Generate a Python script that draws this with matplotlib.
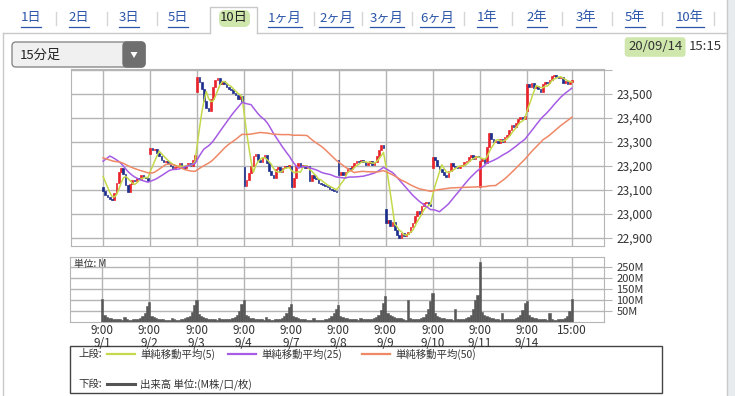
import matplotlib.pyplot as plt
import numpy as np
import pandas as pd
from matplotlib.patches import Rectangle, FancyBboxPatch, Polygon
from matplotlib.lines import Line2D

plt.rcParams['font.family'] = ['Noto Sans CJK JP', 'DejaVu Sans']

# --- data -------------------------------------------------------------
tabs = ["1日", "2日", "3日", "5日", "10日", "1ヶ月", "2ヶ月", "3ヶ月",
        "6ヶ月", "1年", "2年", "3年", "5年", "10年"]
selected_tab = "10日"

days = ["9/1", "9/2", "9/3", "9/4", "9/7", "9/8", "9/9", "9/10", "9/11", "9/14"]
# 15分足: 9:00-11:15, 12:30-15:00  (21 bars per day)
bar_times = ["9:00", "9:15", "9:30", "9:45", "10:00", "10:15", "10:30", "10:45",
             "11:00", "11:15", "12:30", "12:45", "13:00", "13:15", "13:30",
             "13:45", "14:00", "14:15", "14:30", "14:45", "15:00"]

# closes before 9/1 (8/27 pm, 8/28, 8/31) - only feed the moving averages
prev_closes = [23220, 23230, 23215, 23200, 23210, 23195, 23208,
               23320, 23340, 23360, 23350, 23340, 23330, 23320, 23310, 23300, 23310, 23290,
               23280, 23300, 23290, 23280, 23100, 22950, 22920, 22900, 22890, 22882,
               23170, 23220, 23280, 23340, 23400, 23420, 23400, 23370, 23350, 23330, 23300,
               23280, 23270, 23250, 23230, 23220, 23200, 23190, 23180, 23170, 23140]

day_opens = [23110, 23250, 23510, 23195, 23200, 23225, 23020, 23190, 23110, 23430]

day_closes = [
    [23095, 23080, 23068, 23060, 23055, 23085, 23130, 23175, 23190, 23165, 23120,
     23090, 23125, 23140, 23135, 23150, 23145, 23160, 23155, 23150, 23138],  # 9/1
    [23275, 23265, 23270, 23255, 23240, 23225, 23215, 23220, 23210, 23200, 23190,
     23195, 23200, 23210, 23195, 23190, 23205, 23210, 23200, 23225, 23247],  # 9/2
    [23570, 23550, 23520, 23470, 23440, 23430, 23480, 23530, 23560, 23565, 23540,
     23555, 23540, 23530, 23520, 23515, 23505, 23495, 23480, 23490, 23465],  # 9/3
    [23115, 23140, 23170, 23200, 23240, 23250, 23225, 23215, 23235, 23245, 23210,
     23180, 23160, 23150, 23185, 23195, 23175, 23190, 23200, 23195, 23205],  # 9/4
    [23110, 23150, 23200, 23210, 23195, 23205, 23190, 23200, 23135, 23160, 23150,
     23145, 23130, 23125, 23120, 23115, 23110, 23105, 23100, 23095, 23090],  # 9/7
    [23160, 23175, 23160, 23175, 23190, 23185, 23200, 23210, 23220, 23215, 23225,
     23215, 23205, 23210, 23220, 23205, 23215, 23240, 23265, 23285, 23274],  # 9/8
    [22960, 22975, 22950, 22965, 22930, 22910, 22900, 22920, 22905, 22915, 22925,
     22945, 22960, 22990, 23010, 23000, 23030, 23045, 23050, 23040, 23032],  # 9/9
    [23235, 23225, 23200, 23185, 23175, 23160, 23155, 23180, 23210, 23200, 23195,
     23190, 23200, 23205, 23215, 23220, 23235, 23245, 23230, 23240, 23235],  # 9/10
    [23220, 23230, 23210, 23280, 23335, 23310, 23300, 23305, 23295, 23310, 23300,
     23320, 23330, 23350, 23370, 23360, 23380, 23395, 23405, 23395, 23406],  # 9/11
    [23540, 23530, 23545, 23525, 23535, 23520, 23510, 23540, 23550, 23545, 23560,
     23575, 23580, 23570, 23565, 23570, 23545, 23555, 23540, 23550, 23559],  # 9/14
]

# 出来高 (M)
day_volumes = [
    [106, 30, 22, 18, 15, 13, 12, 11, 12, 6, 22, 12, 10, 10, 11, 12, 14, 18, 25, 40, 70],
    [91, 28, 20, 16, 14, 12, 11, 10, 10, 6, 18, 11, 10, 10, 11, 12, 15, 20, 28, 45, 75],
    [101, 35, 25, 20, 16, 14, 12, 12, 12, 7, 18, 12, 11, 11, 12, 13, 15, 20, 30, 48, 80],
    [101, 32, 24, 18, 15, 13, 12, 11, 11, 7, 20, 12, 10, 10, 11, 12, 14, 18, 26, 42, 65],
    [80, 25, 20, 16, 14, 12, 11, 10, 10, 6, 16, 10, 9, 9, 10, 11, 13, 17, 24, 38, 60],
    [76, 28, 22, 18, 15, 14, 13, 12, 12, 8, 18, 12, 11, 11, 12, 13, 16, 22, 32, 55, 85],
    [116, 40, 30, 24, 20, 18, 16, 15, 14, 9, 101, 18, 14, 13, 13, 14, 16, 22, 35, 60, 95],
    [129, 38, 28, 22, 18, 16, 14, 13, 13, 8, 56, 14, 12, 12, 13, 15, 20, 30, 60, 100, 120],
    [272, 45, 30, 24, 20, 17, 15, 14, 14, 9, 38, 14, 12, 12, 13, 14, 16, 22, 32, 55, 85],
    [95, 30, 22, 18, 15, 13, 12, 11, 11, 7, 41, 12, 10, 10, 11, 12, 14, 18, 28, 50, 106],
]

price_ticks = [22900, 23000, 23100, 23200, 23300, 23400, 23500, 23600]
vol_ticks = [50, 100, 150, 200, 250]

ma_periods = [5, 25, 50]
ma_colors = ["#c5d94a", "#a65ce4", "#ef8866"]
ma_labels = ["単純移動平均(5)", "単純移動平均(25)", "単純移動平均(50)"]

# --- build series ----------------------------------------------------
n_per_day = len(bar_times)
closes = np.concatenate([np.array(c, float) for c in day_closes])
opens = np.concatenate([np.array([o] + c[:-1], float) for o, c in zip(day_opens, day_closes)])
volumes = np.concatenate([np.array(v, float) for v in day_volumes])
x = np.arange(len(closes))

hist = pd.Series(list(prev_closes) + list(closes))
mas = [hist.rolling(p, min_periods=1).mean().to_numpy()[len(prev_closes):] for p in ma_periods]

day_starts = [i * n_per_day for i in range(len(days))]
xticks = day_starts + [len(closes) - 1]
xlabels = [f"9:00\n{d}" for d in days] + ["15:00"]

W, H = 735, 396
fig = plt.figure(figsize=(W / 100, H / 100), dpi=100)
fig.patch.set_facecolor("white")

# background layer in pixel coords
bg = fig.add_axes([0, 0, 1, 1], zorder=-1)
bg.set_xlim(0, W)
bg.set_ylim(H, 0)
bg.axis("off")

border = "#c9c9c9"
bg.add_patch(Rectangle((728, 0), 7, H, fc="#e8ecef", ec="none"))
bg.add_line(Line2D([3, 210], [33, 33], color=border, lw=1))
bg.add_line(Line2D([257, 727], [33, 33], color=border, lw=1))
bg.add_line(Line2D([210, 210, 257, 257], [33, 7, 7, 33], color=border, lw=1))
bg.add_line(Line2D([3, 3], [33, H], color=border, lw=1))
bg.add_line(Line2D([727, 727], [0, H], color=border, lw=1))

tab_x = [31, 79, 129, 178, 234, 285, 336, 387, 437, 487, 537, 586, 635, 690]
sep_x = [56, 107, 157, 314, 362, 412, 464, 512, 562, 612, 662, 714]
for sx in sep_x:
    bg.add_line(Line2D([sx, sx], [12, 25], color="#d6d6d6", lw=1))

renderer = fig.canvas.get_renderer()
for lab, tx in zip(tabs, tab_x):
    if lab == selected_tab:
        bg.add_patch(FancyBboxPatch((219, 10), 31, 17, boxstyle="round,pad=0,rounding_size=6",
                                    fc="#cfe6ad", ec="none"))
        bg.text(tx, 18, lab, ha="center", va="center", fontsize=9.5, color="#222222")
    else:
        t = bg.text(tx, 18, lab, ha="center", va="center", fontsize=9.5, color="#2a55a8")
        bb = t.get_window_extent(renderer)
        bg.add_line(Line2D([bb.x0, bb.x1], [27, 27], color="#2a55a8", lw=0.9))

# dropdown
bg.add_patch(FancyBboxPatch((12, 42), 133, 25, boxstyle="round,pad=0,rounding_size=4",
                            fc="#f0f0f0", ec="#8a8a8a", lw=1))
bg.add_patch(FancyBboxPatch((123, 42), 22, 25, boxstyle="round,pad=0,rounding_size=4",
                            fc="#6f6f6f", ec="#6f6f6f", lw=1))
bg.add_patch(Polygon([[130.5, 52], [137.5, 52], [134, 58]], closed=True, fc="white", ec="none"))
bg.text(20, 55, "15分足", ha="left", va="center", fontsize=9.5, color="#222222")

# timestamp
bg.text(628, 47, "20/09/14", ha="left", va="center", fontsize=9.5, color="#333333",
        bbox=dict(boxstyle="round,pad=0.25", fc="#cfe6ad", ec="none"))
bg.text(722, 47, "15:15", ha="right", va="center", fontsize=9.5, color="#333333")

# --- price chart ------------------------------------------------------
grid_c = "#b5b5b5"
xlim = (-14.3, 223.3)

ax = fig.add_axes([71 / W, 1 - 246 / H, 533 / W, 177 / H])
ax.set_xlim(*xlim)
ax.set_ylim(22865, 23604)

up = closes >= opens
dn = ~up
ax.bar(x[up], closes[up] - opens[up], bottom=opens[up], width=0.75,
       color="#e8232b", edgecolor="#e8232b", linewidth=0.5, zorder=3)
ax.bar(x[dn], closes[dn] - opens[dn], bottom=opens[dn], width=0.75,
       color="#1d2f8c", edgecolor="#1d2f8c", linewidth=0.5, zorder=3)
for m, c in zip(mas, ma_colors):
    ax.plot(x, m, color=c, lw=1.1, zorder=4)

ax.set_xticks(xticks)
ax.set_xticklabels([])
ax.set_yticks(price_ticks)
ax.set_yticklabels([f"{v:,}" if v < 23600 else "" for v in price_ticks])
ax.yaxis.tick_right()
ax.tick_params(axis="y", length=6, color=grid_c, labelsize=8.5, labelcolor="#333333", pad=3)
ax.tick_params(axis="x", length=0)
ax.grid(True, color=grid_c, lw=1)
ax.set_axisbelow(True)
for s in ax.spines.values():
    s.set_color(grid_c)

# --- volume chart -----------------------------------------------------
av = fig.add_axes([70 / W, 1 - 321.7 / H, 534 / W, 65 / H])
av.set_xlim(*xlim)
av.set_ylim(0, 297)
av.bar(x, volumes, width=1.0, color="#585858", edgecolor="#585858", linewidth=0.4, zorder=3)
av.set_xticks(xticks)
av.set_xticklabels(xlabels, fontsize=8.5, color="#333333", linespacing=1.0)
av.set_yticks(vol_ticks)
av.set_yticklabels([f"{v}M" for v in vol_ticks])
av.yaxis.tick_right()
av.tick_params(axis="y", length=6, color=grid_c, labelsize=8, labelcolor="#333333", pad=3)
av.tick_params(axis="x", length=0, pad=2)
av.grid(True, color=grid_c, lw=1)
av.set_axisbelow(True)
for s in av.spines.values():
    s.set_color(grid_c)
av.text(0.008, 0.96, "単位: M", transform=av.transAxes, ha="left", va="top",
        fontsize=7, color="#333333", zorder=5)

# --- legend box -------------------------------------------------------
bg.add_patch(Rectangle((70, 346), 592, 47, fc="white", ec="#444444", lw=1))
bg.text(78, 354, "上段:", ha="left", va="center", fontsize=7.5, color="#333333")
seg_x = [107, 228, 362]
for sx, c, lab in zip(seg_x, ma_colors, ma_labels):
    bg.add_line(Line2D([sx, sx + 28], [354, 354], color=c, lw=1.6))
    bg.text(sx + 33, 354, lab, ha="left", va="center", fontsize=7.5, color="#333333")
bg.text(78, 384, "下段:", ha="left", va="center", fontsize=7.5, color="#333333")
bg.add_line(Line2D([107, 135], [384, 384], color="#555555", lw=2.2))
bg.text(140, 384, "出来高 単位:(M株/口/枚)", ha="left", va="center", fontsize=7.5, color="#333333")

fig.savefig("out.png", dpi=100)
